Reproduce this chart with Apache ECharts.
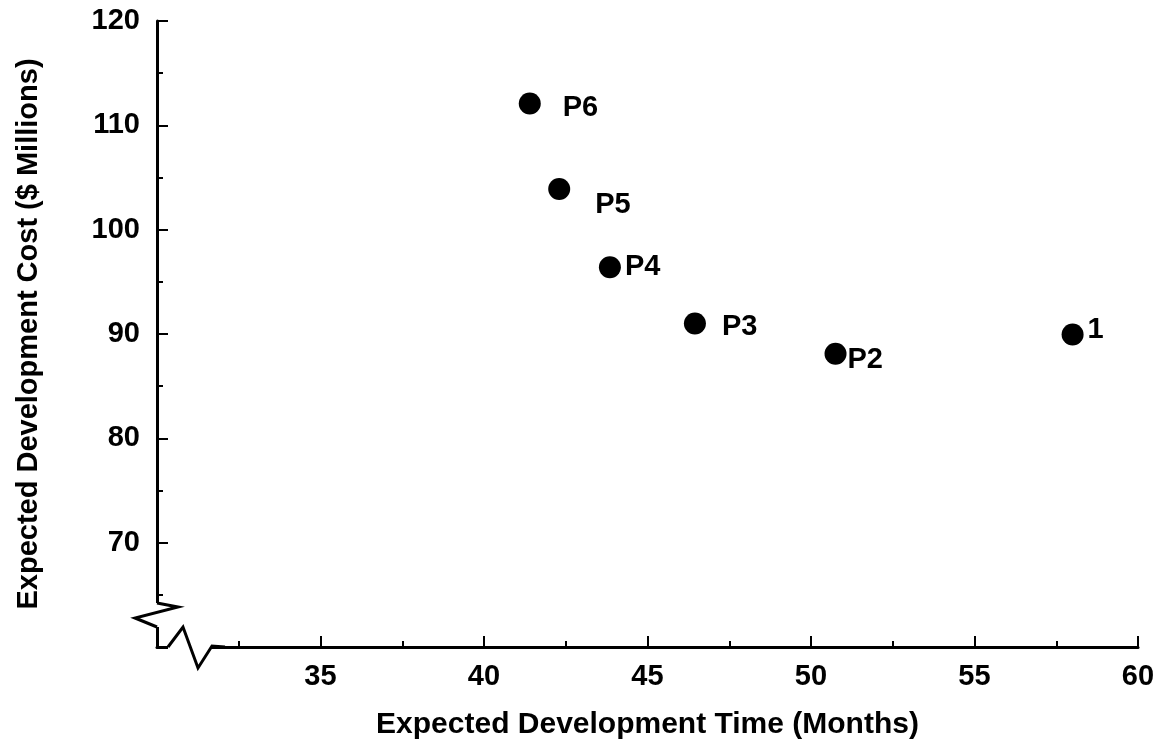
<!DOCTYPE html>
<html>
<head>
<meta charset="utf-8">
<script src="https://cdn.jsdelivr.net/npm/echarts@6/dist/echarts.min.js"></script>
<style>
  html, body { margin: 0; padding: 0; background: #fff; }
  #chart { width: 1162px; height: 746px; }
</style>
</head>
<body>
<div id="chart"></div>
<script>
// data
const pointNames = ['P6', 'P5', 'P4', 'P3', 'P2', '1'];
const devTime = [41.4, 42.3, 43.85, 46.45, 50.75, 58.0];   // months
const devCost = [112.1, 103.9, 96.4, 91.0, 88.1, 89.95];   // $ millions

// label nudges (px) so the names sit where they do in the original
const labelOffsets = [[18, 5], [21, 16], [0, 0], [12, 3], [-3, 6], [0, -5]];

const font = '"Liberation Sans", Arial, sans-serif';

const chart = echarts.init(document.getElementById('chart'));

const option = {
  backgroundColor: '#fff',
  animation: false,
  grid: { left: 157, right: 24, top: 21, bottom: 99 },
  xAxis: {
    type: 'value',
    min: 30,
    max: 60,
    interval: 5,
    name: 'Expected Development Time (Months)',
    nameLocation: 'middle',
    nameGap: 63,
    nameTextStyle: { color: '#000', fontFamily: font, fontWeight: 'bold', fontSize: 30 },
    axisLine: { show: true, lineStyle: { color: '#000', width: 3 } },
    axisTick: { show: true, inside: true, length: 11, lineStyle: { color: '#000', width: 2 } },
    minorTick: { show: true, splitNumber: 2, length: 6, lineStyle: { color: '#000', width: 2 } },
    axisLabel: {
      color: '#000', fontFamily: font, fontWeight: 'bold', fontSize: 29, margin: 15,
      formatter: v => (v === 30 ? '' : String(v))
    },
    splitLine: { show: false }
  },
  yAxis: {
    type: 'value',
    min: 60,
    max: 120,
    interval: 10,
    name: 'Expected Development Cost ($ Millions)',
    nameLocation: 'middle',
    nameGap: 114,
    nameTextStyle: { color: '#000', fontFamily: font, fontWeight: 'bold', fontSize: 29 },
    axisLine: { show: true, lineStyle: { color: '#000', width: 3 } },
    axisTick: { show: true, inside: true, length: 11, lineStyle: { color: '#000', width: 2 } },
    minorTick: { show: true, splitNumber: 2, length: 6, lineStyle: { color: '#000', width: 2 } },
    axisLabel: {
      color: '#000', fontFamily: font, fontWeight: 'bold', fontSize: 29, margin: 17,
      formatter: v => (v === 60 ? '' : String(v))
    },
    splitLine: { show: false }
  },
  series: [
    {
      type: 'scatter',
      symbol: 'circle',
      symbolSize: 22,
      itemStyle: { color: '#000', opacity: 1 },
      emphasis: { disabled: true },
      label: {
        show: true,
        position: 'right',
        distance: 4,
        color: '#000',
        fontFamily: font,
        fontWeight: 'bold',
        fontSize: 29,
        formatter: p => pointNames[p.dataIndex]
      },
      data: devTime.map((t, i) => ({
        value: [t, devCost[i]],
        label: { offset: labelOffsets[i] }
      }))
    }
  ]
};

chart.setOption(option);

// axis break squiggles at the origin corner
const o = chart.convertToPixel({ gridIndex: 0 }, [30, 60]);
const ox = o[0], oy = o[1];
const pen = { stroke: '#000', lineWidth: 3, lineJoin: 'miter', fill: null };
chart.setOption({
  graphic: [
    { type: 'rect', shape: { x: ox - 4, y: oy - 44, width: 8, height: 24 }, style: { fill: '#fff' }, z: 100 },
    { type: 'rect', shape: { x: ox + 11, y: oy - 4, width: 44, height: 8 }, style: { fill: '#fff' }, z: 100 },
    {
      type: 'polyline', z: 101,
      shape: { points: [[ox, oy - 44], [ox + 21, oy - 40], [ox - 22, oy - 29], [ox, oy - 20]] },
      style: pen
    },
    {
      type: 'polyline', z: 101,
      shape: { points: [[ox + 11, oy], [ox + 26, oy - 20], [ox + 41, oy + 21], [ox + 55, oy - 1], [ox + 68, oy]] },
      style: pen
    }
  ]
});
</script>
</body>
</html>
